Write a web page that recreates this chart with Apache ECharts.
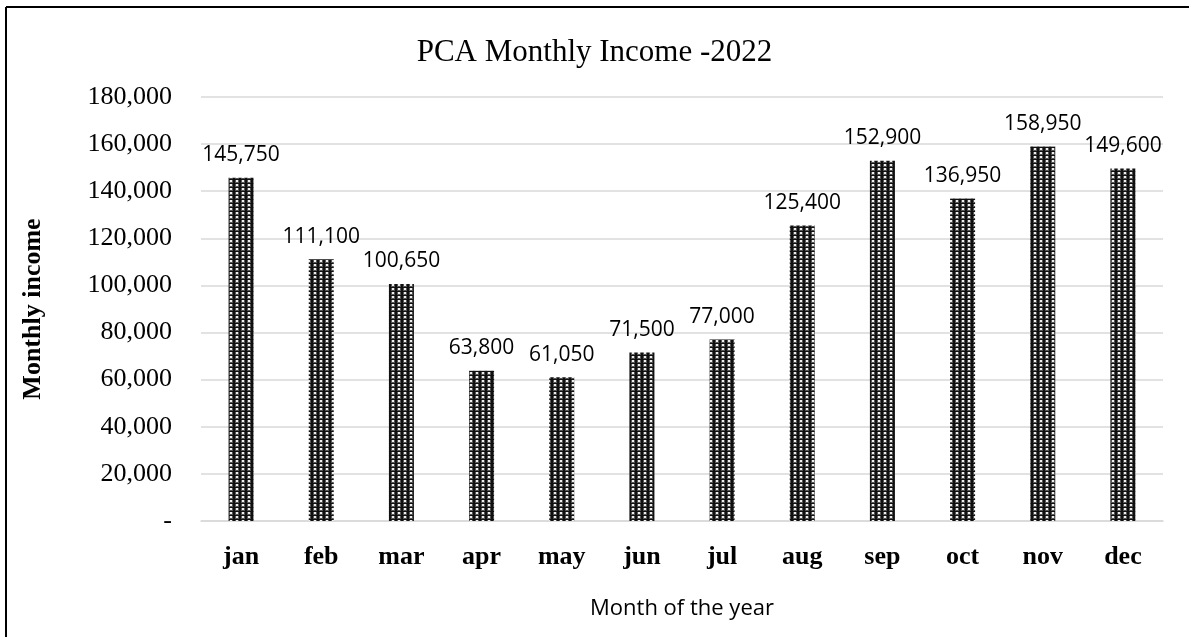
<!DOCTYPE html>
<html>
<head>
<meta charset="utf-8">
<script src="https://cdn.jsdelivr.net/npm/echarts@6/dist/echarts.min.js"></script>
<style>
  html, body { margin: 0; padding: 0; background: #fff; }
  #chart { width: 1189px; height: 637px; }
</style>
</head>
<body>
<div id="chart"></div>
<script>
// Monthly income figures for 2022
const months = ['jan', 'feb', 'mar', 'apr', 'may', 'jun', 'jul', 'aug', 'sep', 'oct', 'nov', 'dec'];
const income = [145750, 111100, 100650, 63800, 61050, 71500, 77000, 125400, 152900, 136950, 158950, 149600];
const yTicks = [0, 20000, 40000, 60000, 80000, 100000, 120000, 140000, 160000, 180000];

function fmt(v) {
  return v === 0 ? '-' : v.toLocaleString('en-US');
}

// Dotted fill for the bars: dark ground with a grid of light dots
const tile = document.createElement('canvas');
tile.width = 6; tile.height = 4;
const tc = tile.getContext('2d');
tc.fillStyle = '#101010';
tc.fillRect(0, 0, 6, 4);
tc.fillStyle = '#555';
tc.fillRect(1, 0, 4, 3);
tc.fillStyle = '#eeeeee';
tc.fillRect(2, 0, 2, 2);

const chart = echarts.init(document.getElementById('chart'), null, { renderer: 'canvas' });
chart.setOption({
  backgroundColor: '#fff',
  animation: false,
  title: {
    text: 'PCA Monthly Income -2022',
    left: 'center',
    top: 32,
    textStyle: { fontFamily: 'Liberation Serif', fontSize: 31, fontWeight: 'normal', color: '#000' }
  },
  graphic: [
    { type: 'line', shape: { x1: 6, y1: 7, x2: 1189, y2: 7 }, style: { stroke: '#000', lineWidth: 2 } },
    { type: 'line', shape: { x1: 6, y1: 7, x2: 6, y2: 637 }, style: { stroke: '#000', lineWidth: 2 } }
  ],
  grid: { left: 201, right: 26, top: 97, bottom: 116, containLabel: false },
  xAxis: {
    type: 'category',
    data: months,
    name: 'Month of the year',
    nameLocation: 'middle',
    nameGap: 77,
    nameTextStyle: { fontFamily: 'Open Sans', fontSize: 22, color: '#000' },
    axisLine: { lineStyle: { color: '#d9d9d9', width: 1.5 } },
    axisTick: { show: false },
    axisLabel: { fontFamily: 'Liberation Serif', fontSize: 26, fontWeight: 'bold', color: '#000', margin: 23 }
  },
  yAxis: {
    type: 'value',
    min: yTicks[0],
    max: yTicks[yTicks.length - 1],
    interval: yTicks[1] - yTicks[0],
    name: 'Monthly income',
    nameLocation: 'middle',
    nameGap: 155,
    nameTextStyle: { fontFamily: 'Liberation Serif', fontSize: 26, fontWeight: 'bold', color: '#000' },
    axisLine: { show: false },
    axisTick: { show: false },
    splitLine: { lineStyle: { color: '#d9d9d9', width: 1.5 } },
    axisLabel: {
      fontFamily: 'Liberation Serif', fontSize: 26, color: '#000', margin: 29,
      formatter: fmt
    }
  },
  series: [{
    type: 'bar',
    data: income,
    barWidth: 25,
    itemStyle: { color: { image: tile, repeat: 'repeat' } },
    label: {
      show: true,
      position: 'top',
      distance: 12,
      fontFamily: 'Open Sans',
      fontSize: 21,
      color: '#000',
      formatter: p => fmt(p.value)
    }
  }]
});
</script>
</body>
</html>
